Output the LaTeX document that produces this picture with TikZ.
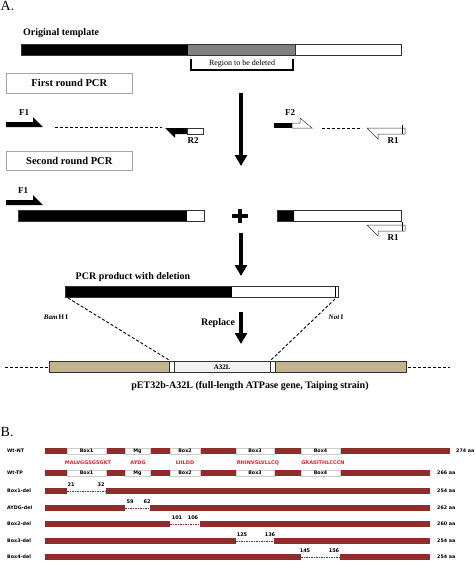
\documentclass[tikz,border=0pt]{standalone}
\usepackage{fontspec}
\setmainfont{Liberation Serif}
\newfontfamily\bsans{DejaVu Sans}
\usetikzlibrary{arrows.meta}
\definecolor{tan}{RGB}{196,182,140}
\definecolor{bred}{RGB}{143,45,45}
\definecolor{rtext}{RGB}{232,32,42}
\definecolor{regiongray}{RGB}{128,128,128}
\tikzset{
  lbl/.style={font=\fontsize{10}{12}\selectfont\bfseries, inner sep=0pt},
  plbl/.style={font=\fontsize{9}{10}\selectfont\bfseries, inner sep=0pt},
  stepbox/.style={draw=gray!70, line width=0.6pt, minimum width=126pt, minimum height=20pt, inner sep=0pt, anchor=north west, font=\fontsize{10.5}{12}\selectfont\bfseries},
  bigarrow/.style={line width=3.6pt, -{Triangle[width=12pt,length=11pt]}},
  dna/.style={draw=black!80, line width=0.5pt},
  dashln/.style={line width=1pt, dash pattern=on 3pt off 2pt},
  rowlbl/.style={font=\bsans\fontsize{4.8}{5}\selectfont\bfseries, inner sep=0pt, anchor=west},
  boxlbl/.style={font=\bsans\fontsize{4.8}{5}\selectfont\bfseries, inner sep=0pt},
  seqlbl/.style={font=\bsans\fontsize{5}{6}\selectfont\bfseries, text=rtext, inner sep=0pt},
  numlbl/.style={font=\bsans\fontsize{5}{5}\selectfont\bfseries, inner sep=0pt},
  rbar/.style={fill=bred, draw=none},
  wbox/.style={fill=white, draw=gray!40, line width=0.3pt},
  deldash/.style={draw=bred, line width=0.6pt, dash pattern=on 1.5pt off 1pt},
}
\begin{document}
\begin{tikzpicture}[x=1pt,y=-1pt]
\useasboundingbox (0,0) rectangle (474,562);

% ---------------- Part A ----------------
\node[font=\fontsize{14}{15}\selectfont, inner sep=0pt, anchor=north west] (A) at (0.5,1) {A.};
\node[lbl, anchor=west] (orig) at (23,33) {Original template};
\fill[black] (21,44) rectangle (188,55);
\fill[regiongray] (188,44) rectangle (295,55);
\draw[dna] (21,44) rectangle (401,55);
\draw[dna] (295,44) -- (295,55);
\coordinate (brL) at (191,59);
\coordinate (brR) at (293,59);
\draw[line width=1.1pt] (brL) -- (191,70) -- (293,70) -- (brR);
\node[font=\fontsize{8}{9}\selectfont, inner sep=0pt] (region) at (242,64) {Region to be deleted};

\node[stepbox] (first) at (6,73) {First round PCR};
\node[stepbox, minimum height=19pt] (second) at (6,151) {Second round PCR};

% big arrows
\coordinate (a1s) at (241,93);  \coordinate (a1e) at (241,166);
\coordinate (a2s) at (241,233); \coordinate (a2e) at (241,276);
\coordinate (a3s) at (241,312); \coordinate (a3e) at (241,344);
\draw[bigarrow] (a1s) -- (a1e);
\draw[bigarrow] (a2s) -- (a2e);
\draw[bigarrow] (a3s) -- (a3e);

% first round primers
\fill[black] (6,122) -- (33,122) -- (33,117) -- (43,127) -- (6,127) -- cycle;
\node[plbl] (f1a) at (24,113) {F1};
\draw[dashln] (55,127) -- (162,127);
\fill[black] (165,128) -- (187,128) -- (187,134) -- (175,134) -- (175,138) -- cycle;
\draw[dna, fill=white] (187,128) rectangle (203,134);
\node[plbl] (r2) at (193,141) {R2};

\fill[black] (274,123) rectangle (292,128);
\draw[dna, fill=white] (292,123) -- (300,123) -- (300,118) -- (312,128) -- (292,128) -- cycle;
\node[plbl] (f2) at (290,113) {F2};
\draw[dashln] (322,128) -- (362,128);
\draw[dna, fill=white] (367,128) -- (405,128) -- (405,134) -- (378,134) -- (378,139) -- cycle;
\draw[line width=0.5pt] (402,125) -- (402,134);
\node[plbl] (r1a) at (393,141) {R1};

% second round
\fill[black] (6,200) -- (33,200) -- (33,195) -- (43,205) -- (6,205) -- cycle;
\node[plbl] (f1b) at (23,191) {F1};
\fill[black] (18,210) rectangle (187,221);
\draw[dna] (18,210) rectangle (204,221);
\draw[line width=3.8pt] (232,216) -- (248,216);
\draw[line width=3.8pt] (240,209) -- (240,223);
\fill[black] (277,210) rectangle (294,221);
\draw[dna] (277,210) rectangle (401,221);
\draw[dna, fill=white] (367,225) -- (405,225) -- (405,231) -- (378,231) -- (378,236) -- cycle;
\draw[line width=0.5pt] (402,222) -- (402,231);
\node[plbl] (r1b) at (393,238) {R1};

% PCR product
\node[lbl] (prod) at (133,277) {PCR product with deletion};
\fill[black] (65,286) rectangle (232,297);
\draw[dna] (65,286) rectangle (338,297);
\draw[line width=0.5pt] (335,286) -- (335,297);
\coordinate (bamTop) at (68,298);
\coordinate (notTop) at (335,299);
\node[font=\fontsize{7}{8}\selectfont\bfseries, inner sep=0pt] (bam) at (56,317) {\textit{Bam}\,H\,I};
\node[font=\fontsize{7}{8}\selectfont\bfseries, inner sep=0pt] (noti) at (336,317) {\textit{Not}\,I};
\node[font=\fontsize{10}{12}\selectfont\bfseries, inner sep=0pt] (replace) at (218,323) {Replace};

% plasmid
\draw[dashln] (5,367) -- (49,367);
\draw[dna, fill=tan] (49,361) rectangle (169,372);
\draw[dna, fill=white] (169,361) rectangle (174,372);
\node[dna, fill=gray!10, minimum width=96pt, minimum height=11pt, inner sep=0pt, anchor=north west, font=\fontsize{7}{8}\selectfont\bfseries] (a32l) at (174,361) {A32L};
\draw[dna, fill=white] (270,361) rectangle (275,372);
\draw[dna, fill=tan] (275,361) rectangle (406,372);
\draw[dashln] (408,367) -- (450,367);
\coordinate (insL) at (169,360);
\coordinate (insR) at (271,360);
\draw[dashln, line width=0.9pt] (bamTop) -- (insL);
\draw[dashln, line width=0.9pt] (notTop) -- (insR);
\node[lbl] (pet) at (250,386) {pET32b-A32L (full-length ATPase gene, Taiping strain)};

% ---------------- Part B ----------------
\node[font=\fontsize{14}{15}\selectfont, inner sep=0pt, anchor=west] (B) at (0.5,432) {B.};

% Wt-NT
\node[rowlbl] (nt) at (7,451) {Wt-NT};
\fill[bred] (45,448) rectangle (450,454);
\draw[wbox] (67,448) rectangle (106,454);
\draw[wbox] (125,448) rectangle (150,454);
\draw[wbox] (170,448) rectangle (200,454);
\draw[wbox] (236,448) rectangle (274,454);
\draw[wbox] (301,448) rectangle (340,454);
\node[boxlbl] (ntb1) at (86.5,451) {Box1};
\node[boxlbl] (ntmg) at (137.5,451) {Mg};
\node[boxlbl] (ntb2) at (185,451) {Box2};
\node[boxlbl] (ntb3) at (255,451) {Box3};
\node[boxlbl] (ntb4) at (320.5,451) {Box4};
\node[rowlbl] (ntaa) at (456,451) {274 aa};

% sequences
\node[seqlbl] (s1) at (88,463) {MALVGGSGSGKT};
\node[seqlbl] (s2) at (138,463) {AYDG};
\node[seqlbl] (s3) at (185,463) {LIILDD};
\node[seqlbl] (s4) at (258,463) {RHINVSLVLLCQ};
\node[seqlbl] (s5) at (323,463) {GRASITHLCCCN};

% Wt-TP
\node[rowlbl] (tp) at (7,473) {Wt-TP};
\fill[bred] (45,470) rectangle (430,476);
\draw[wbox] (67,470) rectangle (106,476);
\draw[wbox] (125,470) rectangle (150,476);
\draw[wbox] (170,470) rectangle (200,476);
\draw[wbox] (236,470) rectangle (274,476);
\draw[wbox] (301,470) rectangle (340,476);
\node[boxlbl] (tpb1) at (86.5,473) {Box1};
\node[boxlbl] (tpmg) at (137.5,473) {Mg};
\node[boxlbl] (tpb2) at (185,473) {Box2};
\node[boxlbl] (tpb3) at (255,473) {Box3};
\node[boxlbl] (tpb4) at (320.5,473) {Box4};
\node[rowlbl] (tpaa) at (437,473) {266 aa};

% Box1-del
\node[rowlbl] (d1) at (7,491) {Box1-del};
\fill[bred] (45,488) rectangle (67,494);
\fill[bred] (106,488) rectangle (430,494);
\draw[deldash] (67,491) -- (106,491);
\node[numlbl] (n21) at (71,485) {21};
\node[numlbl] (n32) at (101,485) {32};
\node[rowlbl] (d1aa) at (437,491) {254 aa};

% AYDG-del
\node[rowlbl] (d2) at (7,508) {AYDG-del};
\fill[bred] (45,505) rectangle (125,511);
\fill[bred] (150,505) rectangle (430,511);
\draw[deldash] (125,508) -- (150,508);
\node[numlbl] (n59) at (130,502) {59};
\node[numlbl] (n62) at (147,502) {62};
\node[rowlbl] (d2aa) at (437,508) {262 aa};

% Box2-del
\node[rowlbl] (d3) at (7,524) {Box2-del};
\fill[bred] (45,521) rectangle (170,527);
\fill[bred] (200,521) rectangle (430,527);
\draw[deldash] (170,524) -- (200,524);
\node[numlbl] (n101) at (177,518) {101};
\node[numlbl] (n106) at (193,518) {106};
\node[rowlbl] (d3aa) at (437,524) {260 aa};

% Box3-del
\node[rowlbl] (d4) at (7,541) {Box3-del};
\fill[bred] (45,538) rectangle (236,544);
\fill[bred] (274,538) rectangle (430,544);
\draw[deldash] (236,541) -- (274,541);
\node[numlbl] (n125) at (242,535) {125};
\node[numlbl] (n136) at (270,535) {136};
\node[rowlbl] (d4aa) at (437,541) {254 aa};

% Box4-del
\node[rowlbl] (d5) at (7,557) {Box4-del};
\fill[bred] (45,554) rectangle (301,560);
\fill[bred] (340,554) rectangle (430,560);
\draw[deldash] (301,557) -- (340,557);
\node[numlbl] (n145) at (305,551) {145};
\node[numlbl] (n156) at (334,551) {156};
\node[rowlbl] (d5aa) at (437,557) {254 aa};
\end{tikzpicture}
\end{document}
